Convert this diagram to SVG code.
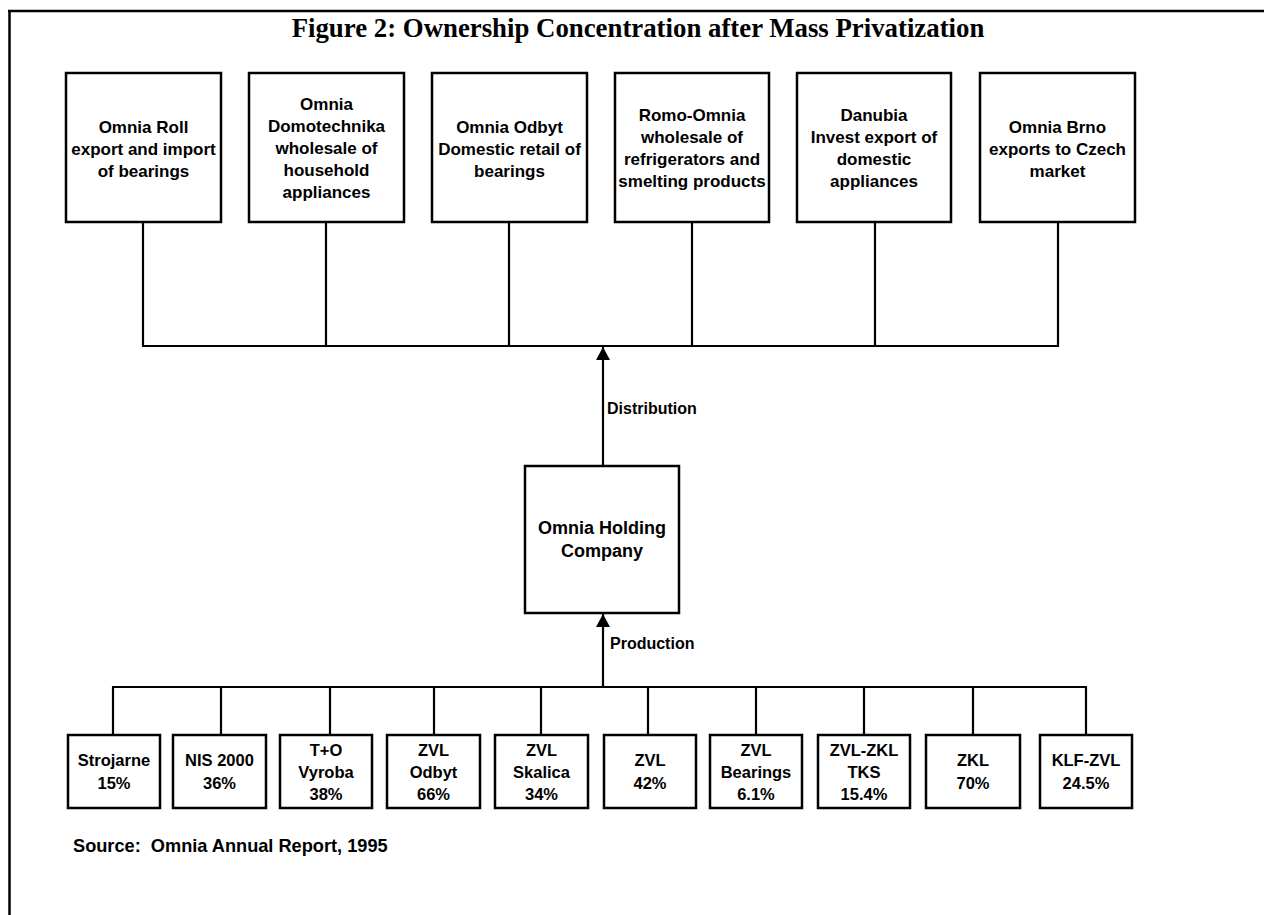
<svg xmlns="http://www.w3.org/2000/svg" width="1264" height="915" viewBox="0 0 1264 915">
<defs>
<style>
.box{fill:#fff;stroke:#000;stroke-width:2.5}
.ln{fill:none;stroke:#000;stroke-width:2.2}
.frame{fill:none;stroke:#000;stroke-width:2.5}
.t{font-family:"Liberation Sans",Arial,sans-serif;font-weight:bold;font-size:17px;text-anchor:middle;fill:#000}
.b{font-family:"Liberation Sans",Arial,sans-serif;font-weight:bold;font-size:16.5px;text-anchor:middle;fill:#000}
.h{font-family:"Liberation Sans",Arial,sans-serif;font-weight:bold;font-size:18px;text-anchor:middle;fill:#000}
.lab{font-family:"Liberation Sans",Arial,sans-serif;font-weight:bold;font-size:16px;fill:#000}
.src{font-family:"Liberation Sans",Arial,sans-serif;font-weight:bold;font-size:18.2px;fill:#000;white-space:pre}
.title{font-family:"Liberation Serif","Times New Roman",serif;font-weight:bold;font-size:26.8px;text-anchor:middle;fill:#000}
</style>
<marker id="arr" markerUnits="userSpaceOnUse" markerWidth="14" markerHeight="14" refX="13" refY="7" orient="auto">
<path d="M0,0 L13,7 L0,14 Z" fill="#000"/>
</marker>
</defs>
<rect width="1264" height="915" fill="#fff"/>
<g id="frame">
<line class="frame" x1="8" y1="11" x2="1264" y2="11"/>
<line class="frame" x1="9.5" y1="11" x2="9.5" y2="915"/>
</g>
<text class="title" x="638" y="37">Figure 2: Ownership Concentration after Mass Privatization</text>

<g id="connectors">
<path class="ln" d="M143,222 V346 M326,222 V346 M509,222 V346 M692,222 V346 M875,222 V346 M1058,222 V346 M142,346 H1059"/>
<line class="ln" x1="603" y1="466" x2="603" y2="347" marker-end="url(#arr)"/>
<line class="ln" x1="603" y1="687" x2="603" y2="614" marker-end="url(#arr)"/>
<path class="ln" d="M112,687 H1087 M113,687 V735 M221,687 V735 M330,687 V735 M434,687 V735 M541,687 V735 M648,687 V735 M756,687 V735 M864,687 V735 M973,687 V735 M1086,687 V735"/>
<text class="lab" x="607" y="414">Distribution</text>
<text class="lab" x="610" y="649">Production</text>
</g>

<g id="omnia-roll">
<rect class="box" x="66" y="73" width="155" height="149"/>
<text class="t" x="143.5" y="133">Omnia Roll</text>
<text class="t" x="143.5" y="155">export and import</text>
<text class="t" x="143.5" y="177">of bearings</text>
</g>
<g id="omnia-domotechnika">
<rect class="box" x="249" y="73" width="155" height="149"/>
<text class="t" x="326.5" y="110">Omnia</text>
<text class="t" x="326.5" y="132">Domotechnika</text>
<text class="t" x="326.5" y="154">wholesale of</text>
<text class="t" x="326.5" y="176">household</text>
<text class="t" x="326.5" y="198">appliances</text>
</g>
<g id="omnia-odbyt">
<rect class="box" x="432" y="73" width="155" height="149"/>
<text class="t" x="509.5" y="133">Omnia Odbyt</text>
<text class="t" x="509.5" y="155">Domestic retail of</text>
<text class="t" x="509.5" y="177">bearings</text>
</g>
<g id="romo-omnia">
<rect class="box" x="615" y="73" width="154" height="149"/>
<text class="t" x="692" y="121">Romo-Omnia</text>
<text class="t" x="692" y="143">wholesale of</text>
<text class="t" x="692" y="165">refrigerators and</text>
<text class="t" x="692" y="187">smelting products</text>
</g>
<g id="danubia">
<rect class="box" x="797" y="73" width="154" height="149"/>
<text class="t" x="874" y="121">Danubia</text>
<text class="t" x="874" y="143">Invest export of</text>
<text class="t" x="874" y="165">domestic</text>
<text class="t" x="874" y="187">appliances</text>
</g>
<g id="omnia-brno">
<rect class="box" x="980" y="73" width="155" height="149"/>
<text class="t" x="1057.5" y="133">Omnia Brno</text>
<text class="t" x="1057.5" y="155">exports to Czech</text>
<text class="t" x="1057.5" y="177">market</text>
</g>

<g id="omnia-holding">
<rect class="box" x="525" y="466" width="154" height="147"/>
<text class="h" x="602" y="534">Omnia Holding</text>
<text class="h" x="602" y="557">Company</text>
</g>

<g id="strojarne">
<rect class="box" x="68" y="735" width="92" height="73"/>
<text class="b" x="114" y="766">Strojarne</text>
<text class="b" x="114" y="789">15%</text>
</g>
<g id="nis-2000">
<rect class="box" x="173" y="735" width="93" height="73"/>
<text class="b" x="219.5" y="766">NIS 2000</text>
<text class="b" x="219.5" y="789">36%</text>
</g>
<g id="to-vyroba">
<rect class="box" x="280" y="735" width="92" height="73"/>
<text class="b" x="326" y="756">T+O</text>
<text class="b" x="326" y="778">Vyroba</text>
<text class="b" x="326" y="800">38%</text>
</g>
<g id="zvl-odbyt">
<rect class="box" x="387" y="735" width="93" height="73"/>
<text class="b" x="433.5" y="756">ZVL</text>
<text class="b" x="433.5" y="778">Odbyt</text>
<text class="b" x="433.5" y="800">66%</text>
</g>
<g id="zvl-skalica">
<rect class="box" x="495" y="735" width="93" height="73"/>
<text class="b" x="541.5" y="756">ZVL</text>
<text class="b" x="541.5" y="778">Skalica</text>
<text class="b" x="541.5" y="800">34%</text>
</g>
<g id="zvl">
<rect class="box" x="604" y="735" width="92" height="73"/>
<text class="b" x="650" y="766">ZVL</text>
<text class="b" x="650" y="789">42%</text>
</g>
<g id="zvl-bearings">
<rect class="box" x="710" y="735" width="92" height="73"/>
<text class="b" x="756" y="756">ZVL</text>
<text class="b" x="756" y="778">Bearings</text>
<text class="b" x="756" y="800">6.1%</text>
</g>
<g id="zvl-zkl-tks">
<rect class="box" x="818" y="735" width="92" height="73"/>
<text class="b" x="864" y="756">ZVL-ZKL</text>
<text class="b" x="864" y="778">TKS</text>
<text class="b" x="864" y="800">15.4%</text>
</g>
<g id="zkl">
<rect class="box" x="926" y="735" width="94" height="73"/>
<text class="b" x="973" y="766">ZKL</text>
<text class="b" x="973" y="789">70%</text>
</g>
<g id="klf-zvl">
<rect class="box" x="1040" y="735" width="92" height="73"/>
<text class="b" x="1086" y="766">KLF-ZVL</text>
<text class="b" x="1086" y="789">24.5%</text>
</g>

<text class="src" x="73" y="852" xml:space="preserve">Source:  Omnia Annual Report, 1995</text>
</svg>
